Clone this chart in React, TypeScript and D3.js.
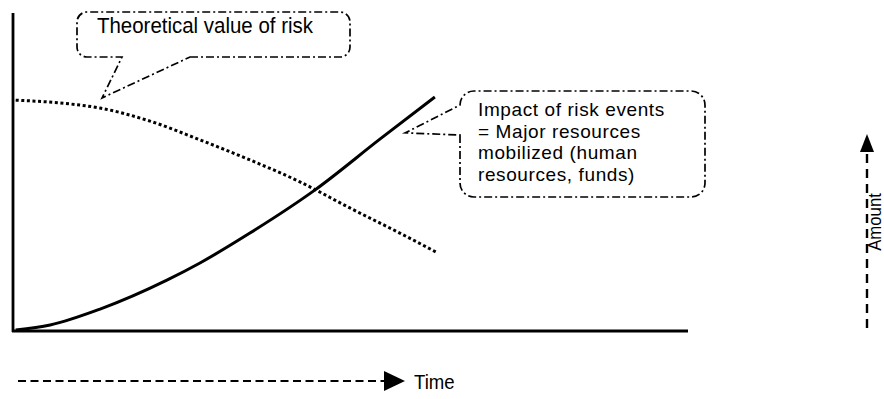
import React, { useEffect, useRef } from 'react';
import * as d3 from 'd3';

const W = 884;
const H = 399;

// time runs 0..100 along the axis, amount 0..100 up the axis
const impactTime = [0.4, 5.5, 12.9, 22.8, 27.7, 35.1, 44.7, 54.4, 62.5];
const impactAmount = [0.3, 1.9, 6.9, 16.0, 21.4, 30.8, 44.3, 60.4, 73.6];
const theoryTime = [0.4, 7.0, 12.9, 20.3, 27.7, 35.1, 42.5, 49.9, 57.3, 62.7];
const theoryAmount = [72.6, 71.7, 70.1, 66.0, 60.1, 53.8, 46.9, 38.7, 30.8, 24.8];

const theoryLabel = ['Theoretical value of risk'];
const impactLabel = ['Impact of risk events', '= Major resources', 'mobilized (human', 'resources, funds)'];
const xTitle = 'Time';
const yTitle = 'Amount';

// where the callout pointers touch
const theoryTip = { t: 13.2, v: 73.3 };
const impactTip = { t: 58.1, v: 62.3 };

const FONT = '"Liberation Sans", Arial, sans-serif';
const NARROW = 0.93; // the original lettering is a bit condensed

const App = () => {
  const ref = useRef<SVGSVGElement>(null);

  useEffect(() => {
    const svg = d3.select(ref.current);
    svg.selectAll('*').remove();

    const x = d3.scaleLinear().domain([0, 100]).range([13, 688]);
    const y = d3.scaleLinear().domain([0, 100]).range([331, 13]);

    // condensed single-line text
    const label = (px: number, py: number, size: number, s: string) =>
      svg.append('text')
        .attr('transform', `translate(${px},${py}) scale(${NARROW},1)`)
        .attr('font-family', FONT)
        .attr('font-size', size)
        .text(s);

    // axes (plain lines, no ticks)
    svg.append('line')
      .attr('x1', x(0)).attr('x2', x(0))
      .attr('y1', y(0) + 1).attr('y2', y(100))
      .attr('stroke', '#000').attr('stroke-width', 2.8);
    svg.append('line')
      .attr('x1', x(0) - 1).attr('x2', x(100))
      .attr('y1', y(0)).attr('y2', y(0))
      .attr('stroke', '#000').attr('stroke-width', 2.8);

    const line = d3.line<[number, number]>()
      .x(d => x(d[0]))
      .y(d => y(d[1]))
      .curve(d3.curveMonotoneX);

    // theoretical value of risk - dotted
    svg.append('path')
      .datum(theoryTime.map((t, i) => [t, theoryAmount[i]] as [number, number]))
      .attr('fill', 'none')
      .attr('stroke', '#000')
      .attr('stroke-width', 3)
      .attr('stroke-dasharray', '3,2.6')
      .attr('d', line);

    // impact of risk events - solid
    svg.append('path')
      .datum(impactTime.map((t, i) => [t, impactAmount[i]] as [number, number]))
      .attr('fill', 'none')
      .attr('stroke', '#000')
      .attr('stroke-width', 3)
      .attr('d', line);

    // callout 1
    const tx1 = x(theoryTip.t);
    const ty1 = y(theoryTip.v);
    const c1 = `M190,57 H340 A10,10 0 0 0 350,47 V22 A10,10 0 0 0 340,12 H87 A10,10 0 0 0 77,22 V47 A10,10 0 0 0 87,57 H122 L${tx1},${ty1} Z`;
    svg.append('path')
      .attr('d', c1)
      .attr('fill', 'none')
      .attr('stroke', '#000')
      .attr('stroke-width', 1.7)
      .attr('stroke-dasharray', '8,3,2,3');
    label(97, 33, 22, theoryLabel[0]);

    // callout 2
    const tx2 = x(impactTip.t);
    const ty2 = y(impactTip.v);
    const c2 = `M460,135 V183 A14,14 0 0 0 474,197 H691 A14,14 0 0 0 705,183 V105 A14,14 0 0 0 691,91 H474 A14,14 0 0 0 460,105 L${tx2},${ty2} Z`;
    svg.append('path')
      .attr('d', c2)
      .attr('fill', 'none')
      .attr('stroke', '#000')
      .attr('stroke-width', 1.7)
      .attr('stroke-dasharray', '8,3,2,3');
    svg.append('g')
      .selectAll('text')
      .data(impactLabel)
      .join('text')
      .attr('x', 478)
      .attr('y', (_, i) => 116 + i * 21.5)
      .attr('font-family', FONT)
      .attr('font-size', 19)
      .attr('letter-spacing', 0.6)
      .text(d => d);

    // Time arrow
    svg.append('line')
      .attr('x1', 18).attr('x2', 384)
      .attr('y1', 381).attr('y2', 381)
      .attr('stroke', '#000').attr('stroke-width', 2.2)
      .attr('stroke-dasharray', '8,4.5');
    svg.append('path')
      .attr('d', 'M384,371 L405,381 L384,391 Z')
      .attr('fill', '#000');
    label(414, 389, 20, xTitle);

    // Amount arrow
    svg.append('line')
      .attr('x1', 867).attr('x2', 867)
      .attr('y1', 328).attr('y2', 150)
      .attr('stroke', '#000').attr('stroke-width', 2.4)
      .attr('stroke-dasharray', '9,6');
    svg.append('path')
      .attr('d', 'M860,152 L867,134 L874,152 Z')
      .attr('fill', '#000');
    svg.append('text')
      .attr('transform', 'translate(881,222) rotate(-90) scale(0.93,1)')
      .attr('text-anchor', 'middle')
      .attr('font-family', FONT).attr('font-size', 18)
      .text(yTitle);
  }, []);

  return (
    <svg
      ref={ref}
      width={W}
      height={H}
      style={{ position: 'absolute', left: 0, top: 0, background: '#fff' }}
    />
  );
};

export default App;
